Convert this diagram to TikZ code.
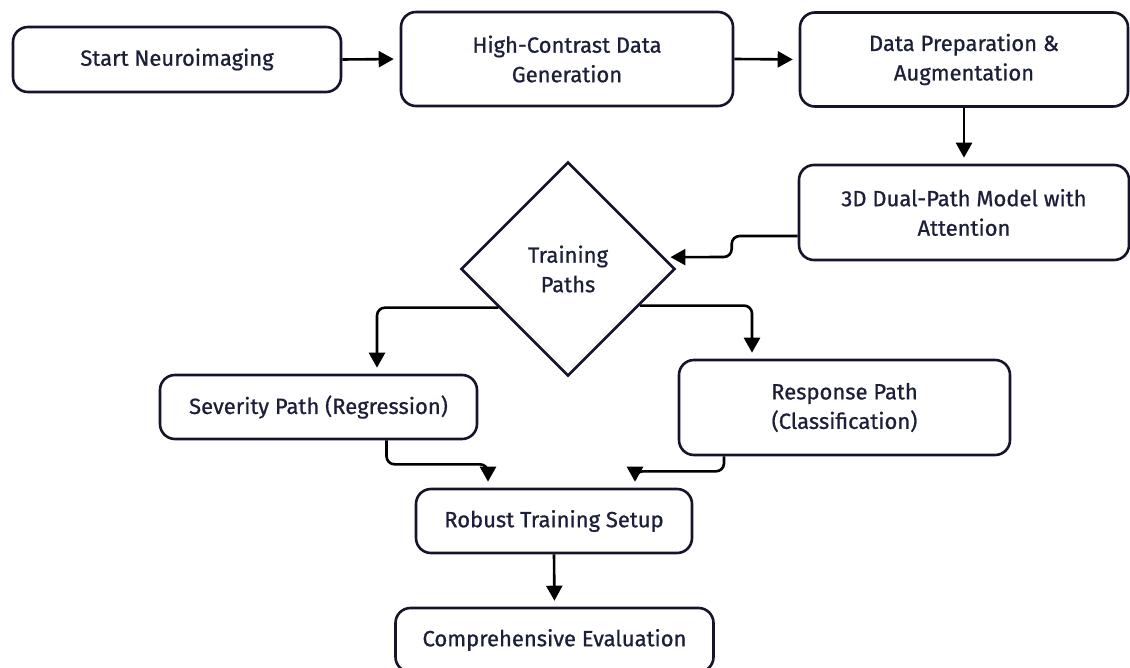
\documentclass[tikz,border=0pt]{standalone}
\usepackage{fontspec}
\setmainfont{Fira Sans}[FakeBold=0.8]
\usetikzlibrary{shapes.geometric,arrows.meta}
\definecolor{inkline}{HTML}{14142B}
\definecolor{inktext}{HTML}{1C1F3A}
\begin{document}
\begin{tikzpicture}[x=1pt,y=-1pt]
            \tikzstyle{stage}=[draw=inkline, line width=2.6pt, rounded corners=15pt, align=center, text=inktext, font=\fontsize{22}{29.5}\selectfont, inner sep=0pt]
            \tikzstyle{choice}=[draw=inkline, line width=2.6pt, diamond, align=center, text=inktext, font=\fontsize{22}{29.5}\selectfont, inner sep=0pt, minimum width=214pt, minimum height=214pt]
            \tikzstyle{link}=[draw=black, line width=2.6pt, rounded corners=8pt, shorten >=6pt, -{Triangle[length=15pt,width=16pt]}]
            \useasboundingbox (0,0) rectangle (1130,668);
            \node [stage, minimum width=328pt, minimum height=65pt] (start) at (177,59.5) {Start Neuroimaging};
            \node [stage, minimum width=332pt, minimum height=94pt] (hcd) at (567,59) {High-Contrast Data\\Generation};
            \node [stage, minimum width=328pt, minimum height=94pt] (prep) at (964,59.5) {Data Preparation \&\\Augmentation};
            \node [stage, minimum width=330pt, minimum height=95pt] (dual) at (964,212.5) {3D Dual-Path Model with\\Attention};
            \node [choice] (paths) at (568,269) {Training\\Paths};
            \node [stage, minimum width=317pt, minimum height=64pt] (sev) at (318.5,407) {Severity Path (Regression)};
            \node [stage, minimum width=331pt, minimum height=95pt] (resp) at (844.5,407.5) {Response Path\\(Classification)};
            \node [stage, minimum width=276pt, minimum height=64pt] (robust) at (554,521) {Robust Training Setup};
            \node [stage, minimum width=318pt, minimum height=64pt] (eval) at (554.5,640) {Comprehensive Evaluation};
            \draw [link] (start.east) -- (hcd.west);
            \draw [link] (hcd.east) -- (prep.west);
            \draw [link] (prep.south) -- (dual.north);
            \draw [link] ([yshift=-23.5pt]dual.west) -- ++(-66,0) -- ++(0,21) -- (paths.7);
            \draw [link] (paths.209) -| ([xshift=58.5pt]sev.north);
            \draw [link] (paths.333) -| ([xshift=-92.5pt]resp.north);
            \draw [link] ([xshift=68pt]sev.south) -- ++(0,24) -| ([xshift=-66pt]robust.north);
            \draw [link] ([xshift=-120.5pt]resp.south) -- ++(0,15) -| ([xshift=81pt]robust.north);
            \draw [link] (robust.south) -- (eval.north);
          \end{tikzpicture}
\end{document}
